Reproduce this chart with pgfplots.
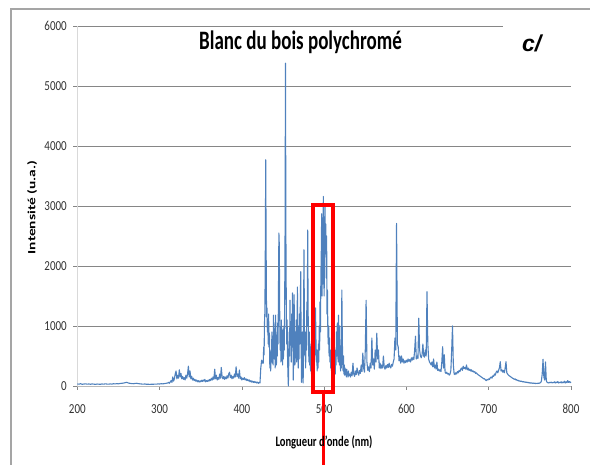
\documentclass[border=0pt]{standalone}
\usepackage{pgfplots}
\pgfplotsset{compat=1.18}
\usepackage{fontspec}
\setmainfont{Carlito}
\newfontfamily\arialfont{Liberation Sans}
\definecolor{xlblue}{RGB}{79,129,189}
\definecolor{gridc}{RGB}{134,134,134}
\definecolor{yaxc}{RGB}{217,217,217}
\definecolor{framec}{RGB}{165,165,165}
\begin{document}
\begin{tikzpicture}
\useasboundingbox (0,0) rectangle (590pt,465pt);
\begin{axis}[
  at={(77.3pt,79pt)}, anchor=south west,
  scale only axis, width=493.7pt, height=360pt,
  xmin=200, xmax=800, ymin=0, ymax=6000,
  xtick={200,300,...,800}, ytick={0,1000,...,6000},
  axis x line*=bottom, axis y line*=left,
  x axis line style={draw=yaxc!60!gridc, line width=0.8pt},
  y axis line style={draw=yaxc, line width=1.6pt},
  ymajorgrids, major grid style={draw=gridc, line width=0.7pt},
  tick align=outside, major tick length=4pt,
  tick style={draw=gridc, line width=0.7pt},
  /pgf/number format/assume math mode=true,
  /pgf/number format/1000 sep={},
  tick label style={font=\fontsize{11}{13}\selectfont, text=black!80, yscale=1.25},
  xticklabel style={yshift=-8pt},
  yticklabel style={xshift=-3pt},
  clip=false,
]
\addplot[xlblue, line width=1.1pt, line join=round] coordinates {
(200,35)(202,30)(204,38)(206,28)(208,33)(210,36)(212,30)(214,34)(216,29)(218,35)(220,31)(222,27)(224,33)(226,30)(228,28)(230,34)(232,30)(234,36)(236,32)(238,30)(240,35)(242,31)(244,38)(246,34)(248,40)(250,36)(252,42)(254,45)(256,48)(258,55)(260,62)(262,50)(264,44)(266,40)(268,38)(270,42)(272,45)(274,40)(276,36)(278,33)(280,30)(282,34)(284,28)(286,30)(288,26)(290,30)(292,28)(294,32)(296,30)(298,35)(300,33)(302,38)(304,36)(306,40)(308,45)
(310,50)(311,60)(312,45)(313,70)(314,90)(315,60)(316,150)(317,80)(318,120)(319,200)(320,250)(321,120)(322,180)(323,130)(324,270)(325,150)(326,210)(327,120)(328,160)(329,110)(330,140)(331,100)(332,180)(333,130)(334,200)(335,330)(336,150)(337,250)(338,120)(339,160)(340,100)(341,130)(342,90)(343,110)(344,80)(345,100)(346,70)(347,90)(348,65)(349,85)(350,70)(351,95)(352,75)(353,100)(354,80)(355,110)(356,70)(357,90)(358,75)(359,100)(360,80)(361,110)(362,90)(363,130)(364,100)(365,150)(366,110)(367,280)(368,120)(369,180)(370,100)(371,140)(372,110)(373,200)(374,130)(375,310)(376,150)(377,120)(378,160)(379,110)(380,150)(381,120)(382,170)(383,130)(384,200)(385,230)(386,140)(387,180)(388,120)(389,160)(390,130)(391,200)(392,150)(393,320)(394,160)(395,200)(396,130)(397,267)(398,120)(399,150)(400,100)(401,130)(402,110)(403,140)(404,100)(405,120)(406,90)(407,110)(408,85)(409,100)(410,70)(411,90)(412,65)(413,80)(414,60)(415,75)(416,55)(417,70)(418,50)(419,65)(420,45)(421,60)(422,50)(423,300)(424,430)
(425.0,380)(425.5,420)(426.0,380)(426.5,650)(427.0,520)(427.5,1050)(428.0,1250)(428.5,2300)(429.0,3770)(429.5,2250)(430.0,1150)(430.5,1300)(431.0,900)(431.5,1100)(432.0,700)(432.5,1200)(433.0,650)(433.5,880)(434.0,300)(434.5,560)(435.0,250)(435.5,600)(436.0,420)(436.5,900)(437.0,380)(437.5,700)(438.0,350)(438.5,1180)(439.0,800)(439.5,450)(440.0,950)(440.5,300)(441.0,1180)(441.5,700)(442.0,350)(442.5,850)(443.0,500)(443.5,1050)(444.0,700)(444.5,1600)(445.0,2550)(445.5,2350)(446.0,1200)(446.5,600)(447.0,900)(447.5,400)(448.0,1100)(448.5,700)(449.0,950)(449.5,350)(450.0,800)(450.5,450)(451.0,1000)(451.5,600)(452.0,1300)(452.5,2550)(453.0,5380)(453.5,2540)(454.0,1350)(454.5,700)(455.0,1100)(455.5,500)(456.0,200)(456.5,0)(457.0,400)(457.5,900)(458.0,500)(458.5,1430)(459.0,700)(459.5,1000)(460.0,400)(460.5,1200)(461.0,650)(461.5,1550)(462.0,900)(462.5,100)(463.0,600)(463.5,1520)(464.0,700)(464.5,350)(465.0,900)(465.5,500)(466.0,1100)(466.5,400)(467.0,800)(467.5,1650)(468.0,600)(468.5,300)(469.0,1000)(469.5,450)(470.0,1200)(470.5,700)(471.0,1300)(471.5,1905)(472.0,800)(472.5,60)(473.0,500)(473.5,900)(474.0,300)(474.5,50)(475.0,1200)(475.5,2270)(476.0,1000)(476.5,500)(477.0,800)(477.5,300)(478.0,900)(478.5,600)(479.0,1400)(479.5,1000)(480.0,2600)(480.5,1300)(481.0,700)(481.5,400)(482.0,900)(482.5,350)(483.0,700)(483.5,250)(484.0,500)(484.5,200)(485.0,400)(485.5,150)(486.0,350)(486.5,200)(487.0,600)(487.5,300)(488.0,900)(488.5,500)(489.0,1100)(489.5,1300)(490.0,800)(490.5,400)(491.0,600)(491.5,250)(492.0,500)(492.5,300)(493.0,700)(493.5,400)(494.0,1000)(494.5,600)(495.0,1400)(495.5,900)(496.0,1800)(496.5,2200)(497.0,2870)(497.5,1500)(498.0,2400)(498.5,1700)(499.0,3160)(499.5,2000)(500.0,1500)(500.5,2600)(501.0,2990)(501.5,2200)(502.0,2700)(502.5,1800)(503.0,2500)(503.5,1200)(504.0,1600)(504.5,900)(505.0,700)(505.5,1000)(506.0,500)(506.5,800)(507.0,400)(507.5,600)(508.0,300)(508.5,500)(509.0,250)(509.5,450)(510.0,300)(510.5,700)(511.0,400)(511.5,300)(512.0,550)(512.5,250)(513.0,400)(513.5,200)(514.0,600)(514.5,350)(515.0,900)(515.5,500)(516.0,1050)(516.5,600)(517.0,400)(517.5,1180)(518.0,700)(518.5,350)(519.0,1000)(519.5,450)(520.0,250)(520.5,600)(521.0,300)(521.5,1600)(522.0,900)(522.5,400)(523.0,250)(523.5,500)(524.0,200)(524.5,350)(525.0,180)(525.5,300)(526.0,200)(526.5,250)(527.0,150)(527.5,280)(528.0,180)(528.5,220)(529.0,150)(529.5,250)(530.0,170)
(531,200)(532,150)(533,230)(534,170)(535,380)(536,200)(537,160)(538,250)(539,190)(540,300)(541,220)(542,180)(543,260)(544,210)(545,350)(546,240)(547,550)(548,300)(549,230)(550,600)(551,1430)(552,400)(553,260)(554,320)(555,240)(556,380)(557,300)(558,800)(559,350)(560,450)(561,280)(562,600)(563,400)(564,880)(565,450)(566,600)(567,300)(568,380)(569,290)(570,350)(571,300)(572,500)(573,320)(574,280)(575,340)(576,300)(577,360)(578,310)(579,380)(580,320)(581,300)(582,360)(583,330)(584,400)(585,450)(586,800)(587,600)(588,2710)(589,700)(590,650)(591,420)(592,500)(593,380)(594,500)(595,400)(596,450)(597,380)(598,420)(599,390)(600,430)(601,400)(602,450)(603,410)(604,440)(605,400)(606,470)(607,430)(608,480)(609,440)(610,600)(611,830)(612,450)(613,500)(614,460)(615,1130)(616,600)(617,500)(618,470)(619,520)(620,700)(621,500)(622,480)(623,600)(624,500)(625,1570)(626,700)(627,450)(628,400)(629,380)(630,350)(631,400)(632,320)(633,450)(634,300)(635,350)(636,280)(637,400)(638,260)(639,280)(640,250)(641,270)(642,240)(643,400)(644,655)(645,300)(646,520)(647,230)(648,210)(649,230)(650,200)(651,210)(652,180)(653,200)(654,260)(655,600)(656,1000)(657,350)(658,200)(659,190)(660,220)(661,200)(662,240)(663,220)(664,260)(665,240)(666,280)(667,300)(668,260)(669,330)(670,290)(671,310)(672,280)(673,350)(674,270)(675,300)(676,260)(677,280)(678,250)(679,270)(680,240)(681,250)(682,230)(683,240)(684,210)(685,220)(686,200)(687,190)(688,180)(689,170)(690,160)(691,150)(692,140)(693,130)(694,120)(695,120)(696,100)(697,90)(698,110)(699,100)(700,120)(701,110)(702,140)(703,150)(704,130)(705,170)(706,160)(707,200)(708,180)(709,230)(710,250)(711,220)(712,260)(713,300)(714,405)(715,250)(716,270)(717,230)(718,260)(719,220)(720,300)(721,405)(722,220)(723,200)(724,180)(725,170)(726,160)(727,150)(728,140)(729,130)(730,125)(731,110)(732,120)(733,100)(734,105)(735,90)(736,95)(737,80)(738,85)(739,75)(740,80)(741,70)(742,75)(743,65)(744,70)(745,60)(746,65)(747,55)(748,60)(749,50)(750,55)(751,48)(752,52)(753,45)(754,50)(755,42)(756,48)(757,40)(758,45)(759,42)(760,48)(761,45)(762,50)(763,55)(764,80)(765,200)(766,445)(767,150)(768,100)(769,400)(770,90)(771,60)(772,55)(773,50)(774,60)(775,55)(776,65)(777,50)(778,60)(779,55)(780,70)(781,50)(782,65)(783,55)(784,75)(785,50)(786,60)(787,55)(788,70)(789,50)(790,65)(791,55)(792,80)(793,50)(794,70)(795,55)(796,90)(797,60)(798,75)(799,55)(800,70)
};
\draw[red, line width=4pt] (axis cs:486.8,-95) rectangle (axis cs:510.3,3017);
\draw[red, line width=2.6pt] (axis cs:499.2,-130) -- (axis cs:499.2,-1450);
\end{axis}
\fill[white] (503pt,432pt) rectangle (578pt,446pt);
\draw[framec, line width=1.2pt] (11pt,-5pt) -- (11pt,456pt) -- (600pt,456pt);
\node[anchor=base, inner sep=0pt, yscale=1.4, font=\bfseries\fontsize{19}{22}\selectfont] at (300.5pt,415pt) {Blanc du bois polychromé};
\node[anchor=base west, inner sep=0pt, font=\arialfont\bfseries\itshape\fontsize{23}{27}\selectfont] at (522pt,413.3pt) {c/};
\node[anchor=base, inner sep=0pt, yscale=1.37, font=\bfseries\fontsize{10.6}{13}\selectfont] at (324pt,18.3pt) {Longueur d'onde (nm)};
\node[anchor=center, inner sep=0pt, rotate=90, xscale=1.4, font=\bfseries\fontsize{11}{13}\selectfont] at (32pt,257.5pt) {Intensité (u.a.)};
\end{tikzpicture}
\end{document}
